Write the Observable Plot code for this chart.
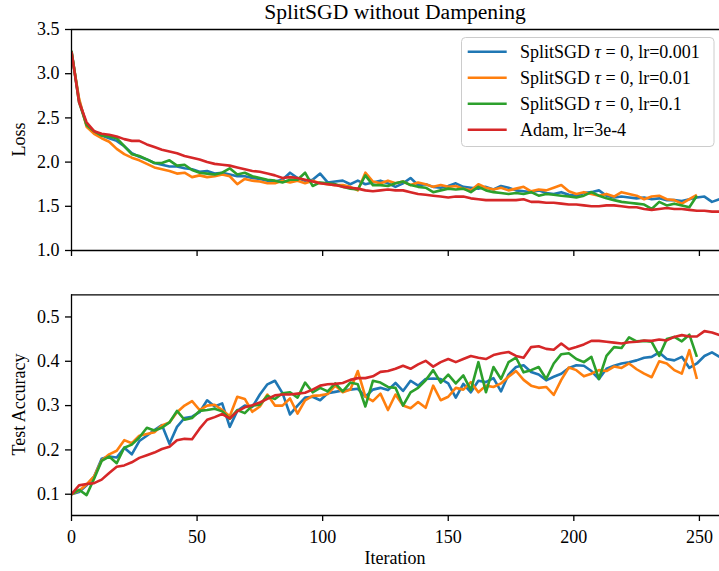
<!DOCTYPE html>
<html><head><meta charset="utf-8">
<script src="https://cdn.jsdelivr.net/npm/d3@7"></script>
<script src="https://cdn.jsdelivr.net/npm/@observablehq/plot@0.6"></script>
<style>
body{margin:0;background:#fff;}
#wrap{position:relative;width:719px;height:571px;overflow:hidden;font-family:"Liberation Serif",serif;background:#fff;}
#wrap > div, #wrap > svg {position:absolute;left:0;}
</style></head><body><div id="wrap"></div>
<script>
// ---------- data ----------
const iterations = d3.range(0, 259, 3); // 0,3,...,258

const seriesNames = ["SplitSGD τ = 0, lr=0.001", "SplitSGD τ = 0, lr=0.01", "SplitSGD τ = 0, lr=0.1", "Adam, lr=3e-4"];
const seriesColors = ["#1f77b4", "#ff7f0e", "#2ca02c", "#d62728"];

const xTicks = [0, 50, 100, 150, 200, 250];
const lossTicks = [1.0, 1.5, 2.0, 2.5, 3.0, 3.5];
const accTicks = [0.1, 0.2, 0.3, 0.4, 0.5];

const lossBlue = [3.25,2.70,2.42,2.34,2.30,2.27,2.24,2.18,2.10,2.06,
2.03,1.99,1.97,1.95,1.95,1.93,1.92,1.89,1.90,1.87,
1.88,1.86,1.84,1.84,1.82,1.81,1.79,1.78,1.80,1.88,
1.82,1.79,1.80,1.87,1.77,1.78,1.79,1.75,1.79,1.75,
1.77,1.79,1.76,1.72,1.76,1.82,1.74,1.75,1.72,1.71,
1.73,1.76,1.72,1.71,1.70,1.72,1.69,1.73,1.71,1.68,
1.67,1.66,1.68,1.65,1.64,1.66,1.63,1.62,1.65,1.66,
1.68,1.62,1.60,1.61,1.60,1.59,1.60,1.58,1.59,1.57,
1.57,1.56,1.58,1.60,1.61,1.55,1.58];

const lossOrange = [3.24,2.72,2.40,2.32,2.27,2.23,2.15,2.09,2.05,2.02,
1.98,1.94,1.92,1.90,1.87,1.88,1.83,1.85,1.83,1.84,
1.86,1.84,1.75,1.81,1.79,1.78,1.76,1.76,1.79,1.77,
1.79,1.76,1.79,1.76,1.75,1.74,1.74,1.72,1.68,1.88,
1.78,1.76,1.79,1.76,1.78,1.74,1.77,1.75,1.72,1.74,
1.72,1.73,1.70,1.68,1.75,1.71,1.69,1.71,1.68,1.70,
1.72,1.67,1.69,1.68,1.71,1.74,1.67,1.64,1.66,1.64,
1.62,1.64,1.61,1.66,1.64,1.62,1.58,1.61,1.62,1.58,
1.57,1.53,1.58,1.63];

const lossGreen = [3.26,2.68,2.42,2.35,2.30,2.29,2.27,2.18,2.09,2.07,
2.03,1.99,1.99,2.02,1.96,1.97,1.91,1.88,1.87,1.86,
1.88,1.93,1.86,1.88,1.84,1.82,1.80,1.79,1.77,1.80,
1.80,1.88,1.73,1.77,1.76,1.75,1.72,1.70,1.69,1.85,
1.74,1.74,1.73,1.76,1.78,1.74,1.72,1.71,1.66,1.68,
1.70,1.69,1.70,1.66,1.72,1.68,1.66,1.65,1.64,1.65,
1.64,1.66,1.62,1.64,1.63,1.62,1.61,1.60,1.62,1.66,
1.62,1.59,1.57,1.55,1.54,1.53,1.52,1.47,1.55,1.51,
1.53,1.51,1.49,1.62];

const lossAdam = [3.25,2.68,2.45,2.35,2.32,2.31,2.29,2.26,2.24,2.24,
2.20,2.17,2.14,2.12,2.10,2.07,2.05,2.03,2.00,1.98,
1.97,1.96,1.94,1.92,1.90,1.89,1.87,1.85,1.82,1.83,
1.82,1.80,1.78,1.76,1.75,1.74,1.72,1.71,1.70,1.68,
1.67,1.68,1.69,1.68,1.68,1.66,1.64,1.63,1.62,1.61,
1.60,1.61,1.61,1.59,1.58,1.57,1.57,1.57,1.57,1.57,
1.58,1.55,1.55,1.54,1.54,1.53,1.52,1.52,1.51,1.50,
1.50,1.51,1.51,1.50,1.49,1.49,1.47,1.46,1.47,1.48,
1.47,1.47,1.46,1.45,1.45,1.44,1.44];

const accBlue = [0.100,0.105,0.120,0.140,0.180,0.185,0.183,0.205,0.190,0.220,
0.232,0.245,0.256,0.214,0.252,0.272,0.275,0.285,0.312,0.298,
0.305,0.252,0.288,0.300,0.297,0.325,0.348,0.356,0.328,0.280,
0.300,0.318,0.320,0.312,0.328,0.331,0.334,0.336,0.338,0.320,
0.336,0.340,0.335,0.351,0.333,0.356,0.345,0.360,0.361,0.360,
0.350,0.318,0.349,0.330,0.356,0.353,0.362,0.332,0.370,0.387,
0.391,0.376,0.370,0.357,0.365,0.372,0.385,0.391,0.390,0.378,
0.360,0.383,0.390,0.395,0.398,0.402,0.408,0.410,0.420,0.405,
0.402,0.410,0.385,0.395,0.412,0.420,0.410];

const accOrange = [0.100,0.108,0.122,0.140,0.176,0.190,0.198,0.222,0.215,0.232,
0.236,0.240,0.255,0.262,0.285,0.300,0.310,0.290,0.300,0.302,
0.290,0.276,0.320,0.315,0.286,0.298,0.325,0.300,0.300,0.316,
0.282,0.312,0.322,0.323,0.326,0.345,0.330,0.336,0.378,0.320,
0.310,0.327,0.290,0.325,0.300,0.294,0.308,0.295,0.345,0.312,
0.320,0.340,0.336,0.353,0.330,0.345,0.342,0.350,0.365,0.378,
0.358,0.345,0.340,0.342,0.324,0.358,0.386,0.380,0.366,0.372,
0.380,0.378,0.388,0.385,0.395,0.382,0.372,0.364,0.400,0.395,
0.380,0.372,0.425,0.360];

const accGreen = [0.100,0.110,0.098,0.135,0.175,0.185,0.170,0.205,0.212,0.228,
0.250,0.244,0.250,0.262,0.288,0.268,0.272,0.288,0.290,0.293,
0.287,0.270,0.290,0.283,0.300,0.302,0.322,0.315,0.328,0.330,
0.318,0.352,0.330,0.340,0.332,0.350,0.332,0.352,0.348,0.298,
0.356,0.352,0.342,0.340,0.300,0.330,0.340,0.357,0.380,0.352,
0.370,0.350,0.368,0.335,0.398,0.330,0.387,0.360,0.398,0.408,
0.375,0.380,0.387,0.360,0.395,0.416,0.418,0.405,0.398,0.410,
0.360,0.412,0.432,0.430,0.454,0.445,0.446,0.444,0.412,0.450,
0.455,0.445,0.460,0.410];

const accAdam = [0.100,0.120,0.123,0.125,0.133,0.148,0.162,0.165,0.172,0.182,
0.188,0.194,0.202,0.207,0.222,0.225,0.224,0.248,0.268,0.274,
0.281,0.271,0.287,0.296,0.301,0.307,0.315,0.323,0.325,0.325,
0.327,0.329,0.336,0.345,0.348,0.349,0.351,0.358,0.362,0.362,
0.366,0.376,0.378,0.383,0.390,0.383,0.393,0.401,0.388,0.398,
0.405,0.398,0.405,0.412,0.408,0.405,0.414,0.418,0.421,0.412,
0.408,0.432,0.434,0.428,0.426,0.440,0.427,0.432,0.438,0.446,
0.446,0.444,0.442,0.440,0.443,0.444,0.447,0.446,0.449,0.447,
0.455,0.459,0.456,0.456,0.468,0.465,0.459];

// ---------- drawing ----------
const FONT = "Liberation Serif";
const wrap = document.getElementById("wrap");
const toRows = vals => vals.map((v, i) => ({it: iterations[i], v}));

function panel({series, yDomain, yTicks, height, mt, mb, labels, top}) {
  const marks = series.map((vals, k) => Plot.line(toRows(vals), {
    x: "it", y: "v", stroke: seriesColors[k], strokeWidth: 2.6,
    strokeLinejoin: "round", strokeLinecap: "butt", clip: true
  }));
  marks.push(
    Plot.ruleX([0], {stroke: "black", strokeWidth: 1.3}),
    Plot.ruleY([yDomain[0], yDomain[1]], {stroke: "black", strokeWidth: 1.3}),
    Plot.axisY({ticks: yTicks, tickSize: 6, tickPadding: 6, tickFormat: d3.format(".1f"), label: null, strokeWidth: 1.3}),
    Plot.axisX({ticks: xTicks, tickSize: 6, tickPadding: 9, tickFormat: labels ? d3.format("d") : () => "", label: null, strokeWidth: 1.3})
  );
  const p = Plot.plot({
    width: 719, height, marginLeft: 71, marginRight: 0, marginTop: mt, marginBottom: mb,
    x: {domain: [0, 258]}, y: {domain: yDomain},
    style: {fontFamily: FONT, fontSize: "18px", color: "black", background: "transparent", overflow: "visible"},
    marks
  });
  p.style.top = top + "px";
  wrap.appendChild(p);
}

panel({series: [lossBlue, lossOrange, lossGreen, lossAdam], yDomain: [1.0, 3.5], yTicks: lossTicks,
  height: 270, mt: 29, mb: 20, labels: false, top: 0});
panel({series: [accBlue, accOrange, accGreen, accAdam], yDomain: [0.052, 0.55], yTicks: accTicks,
  height: 301, mt: 24.3, mb: 56, labels: true, top: 270});

// overlay: title, axis labels, legend
const ns = "http://www.w3.org/2000/svg";
const ov = d3.select(wrap).append("svg").attr("width", 719).attr("height", 571)
  .style("top", "0px").style("pointer-events", "none")
  .attr("font-family", FONT).attr("fill", "black");
ov.append("text").attr("x", 395).attr("y", 19).attr("text-anchor", "middle").attr("font-size", 21.6)
  .text("SplitSGD without Dampening");
ov.append("text").attr("x", 395).attr("y", 564).attr("text-anchor", "middle").attr("font-size", 18).text("Iteration");
ov.append("text").attr("transform", "translate(25,139.5) rotate(-90)").attr("text-anchor", "middle").attr("font-size", 18).text("Loss");
ov.append("text").attr("transform", "translate(25,404.5) rotate(-90)").attr("text-anchor", "middle").attr("font-size", 18).text("Test Accuracy");

const lg = ov.append("g");
lg.append("rect").attr("x", 461.5).attr("y", 37.5).attr("width", 252.5).attr("height", 109).attr("rx", 4)
  .attr("fill", "white").attr("fill-opacity", 0.8).attr("stroke", "#cccccc").attr("stroke-width", 1);
seriesNames.forEach((name, k) => {
  const y = 51.7 + 26 * k;
  lg.append("line").attr("x1", 467.7).attr("x2", 506.7).attr("y1", y).attr("y2", y)
    .attr("stroke", seriesColors[k]).attr("stroke-width", 2.6);
  const t = lg.append("text").attr("x", 520).attr("y", y).attr("dy", "0.34em").attr("font-size", 18);
  const m = name.match(/^(.*?)τ(.*)$/);
  if (m) {
    t.append("tspan").text(m[1]);
    t.append("tspan").attr("font-style", "italic").text("τ");
    t.append("tspan").text(m[2]);
  } else {
    t.text(name);
  }
});
</script></body></html>
